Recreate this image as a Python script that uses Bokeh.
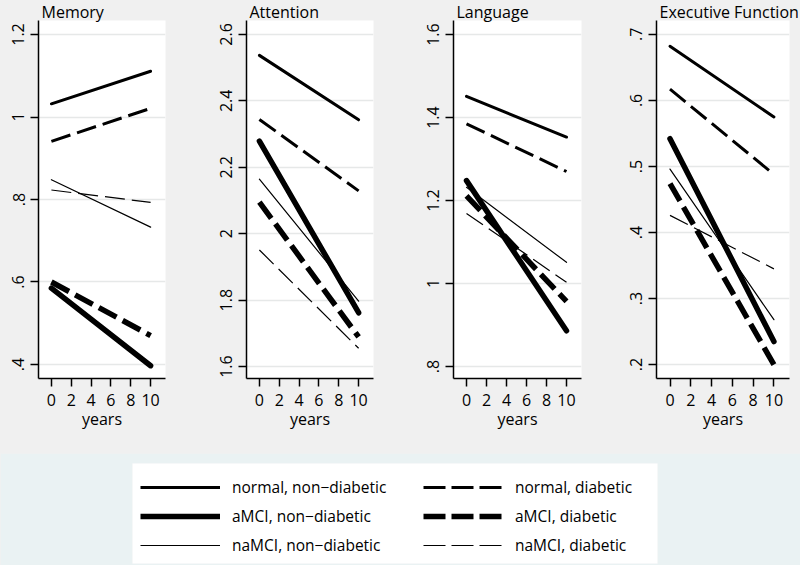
from bokeh.plotting import figure
from bokeh.layouts import column, row
from bokeh.models import Legend, LegendItem, Range1d, FixedTicker, Title
from bokeh.embed import file_html
from bokeh.resources import INLINE

# ---------------- data ----------------
years = [0, 10]
groups = ["normal, non\u2212diabetic", "normal, diabetic",
          "aMCI, non\u2212diabetic", "aMCI, diabetic",
          "naMCI, non\u2212diabetic", "naMCI, diabetic"]

memory_y0 = [1.032, 0.941, 0.585, 0.600, 0.848, 0.823]
memory_y10 = [1.111, 1.021, 0.397, 0.470, 0.733, 0.793]
attention_y0 = [2.537, 2.344, 2.279, 2.095, 2.164, 1.951]
attention_y10 = [2.343, 2.129, 1.762, 1.689, 1.797, 1.655]
language_y0 = [1.451, 1.385, 1.248, 1.211, 1.232, 1.169]
language_y10 = [1.353, 1.270, 0.886, 0.957, 1.051, 1.003]
exec_y0 = [0.682, 0.617, 0.542, 0.474, 0.496, 0.426]
exec_y10 = [0.575, 0.488, 0.235, 0.200, 0.268, 0.345]

x_ticks = [0, 2, 4, 6, 8, 10]
memory_ticks = [0.4, 0.6, 0.8, 1.0, 1.2]
memory_labels = [".4", ".6", ".8", "1", "1.2"]
attention_ticks = [1.6, 1.8, 2.0, 2.2, 2.4, 2.6]
attention_labels = ["1.6", "1.8", "2", "2.2", "2.4", "2.6"]
language_ticks = [0.8, 1.0, 1.2, 1.4, 1.6]
language_labels = [".8", "1", "1.2", "1.4", "1.6"]
exec_ticks = [0.2, 0.3, 0.4, 0.5, 0.6, 0.7]
exec_labels = [".2", ".3", ".4", ".5", ".6", ".7"]

# ---------------- styles ----------------
FONT = "Open Sans"
TOPBG = "#F0F0F0"
BOTBG = "#EAF2F3"
GRID = "#E6E8E8"
widths = [3, 3, 5.5, 5.5, 1.2, 1.2]
dashes = ["solid", "20 7", "solid", "20 7", "solid", "20 7"]
legend_dashes = ["solid", "22 6", "solid", "22 6", "solid", "22 6"]
caps = ["round", "butt", "round", "butt", "round", "butt"]

FT, FH, FB = 20, 358, 75


def make_panel(title, y0, y10, ticks, labels, yr, fl, fw, fr):
    p = figure(frame_width=fw, frame_height=FH,
               min_border_left=fl, min_border_right=fr,
               min_border_top=FT, min_border_bottom=FB,
               x_range=Range1d(-1.3, 11.5), y_range=Range1d(*yr),
               output_backend="svg", toolbar_location=None, tools="")
    p.background_fill_color = "white"
    p.border_fill_color = TOPBG
    p.outline_line_color = None
    p.xgrid.visible = False
    p.yaxis.ticker = FixedTicker(ticks=ticks)
    p.ygrid.ticker = p.yaxis[0].ticker
    p.ygrid.grid_line_color = GRID
    p.ygrid.grid_line_width = 1.5
    p.xaxis.ticker = FixedTicker(ticks=x_ticks)
    p.yaxis.major_label_overrides = {t: l for t, l in zip(ticks, labels)}
    p.yaxis.major_label_orientation = "vertical"
    for ax in (p.xaxis[0], p.yaxis[0]):
        ax.axis_line_color = "black"
        ax.axis_line_width = 1.5
        ax.major_tick_line_color = "black"
        ax.major_tick_line_width = 1.5
        ax.major_tick_out = 8
        ax.major_tick_in = 0
        ax.minor_tick_line_color = None
        ax.major_label_text_font = FONT
        ax.major_label_text_font_size = "16px"
        ax.major_label_text_color = "black"
    p.yaxis.major_label_standoff = 6
    p.xaxis.major_label_standoff = 7
    p.xaxis.axis_label = "years"
    p.xaxis.axis_label_text_font = FONT
    p.xaxis.axis_label_text_font_size = "16px"
    p.xaxis.axis_label_text_font_style = "normal"
    p.xaxis.axis_label_text_color = "black"
    p.xaxis.axis_label_standoff = -1
    for i in range(len(groups)):
        p.line(x=years, y=[y0[i], y10[i]], line_color="black",
               line_width=widths[i], line_dash=dashes[i], line_cap=caps[i])
    p.add_layout(Title(text=title, align="left", offset=3, standoff=-4,
                       text_font=FONT, text_font_size="16px",
                       text_font_style="normal", text_color="black"), "above")
    return p


p1 = make_panel("Memory", memory_y0, memory_y10, memory_ticks, memory_labels,
                (0.366, 1.234), 38, 127, 35)
p2 = make_panel("Attention", attention_y0, attention_y10, attention_ticks,
                attention_labels, (1.564, 2.642), 46, 127, 27)
p3 = make_panel("Language", language_y0, language_y10, language_ticks,
                language_labels, (0.771, 1.634), 53, 128, 19)
p4 = make_panel("Executive Function", exec_y0, exec_y10, exec_ticks,
                exec_labels, (0.179, 0.721), 56, 133, 11)

# ---------------- legend ----------------
lg = figure(frame_width=525, frame_height=100, min_border_left=132,
            min_border_right=143, min_border_top=10, min_border_bottom=2,
            x_range=Range1d(0, 1), y_range=Range1d(0, 1),
            x_axis_type=None, y_axis_type=None,
            output_backend="svg", toolbar_location=None, tools="")
lg.background_fill_color = "white"
lg.border_fill_color = BOTBG
lg.outline_line_color = None
items = []
for i, g in enumerate(groups):
    r = lg.line(x=[float("nan")] * 2, y=[float("nan")] * 2, line_color="black",
                line_width=widths[i], line_dash=legend_dashes[i])
    items.append(LegendItem(label=g, renderers=[r]))
leg = Legend(items=items, location=(8, 7), orientation="horizontal", ncols=2,
             padding=0, margin=0, spacing=7, glyph_width=80, glyph_height=20,
             label_height=20, label_width=184, label_standoff=12,
             label_text_font=FONT, label_text_font_size="15.5px",
             label_text_color="black", border_line_color=None,
             background_fill_alpha=0)
lg.add_layout(leg)

top = row(p1, p2, p3, p4, styles={"background-color": TOPBG})
layout = column(top, lg, styles={"background-color": TOPBG})
open("out.html", "w").write(file_html(layout, INLINE))
